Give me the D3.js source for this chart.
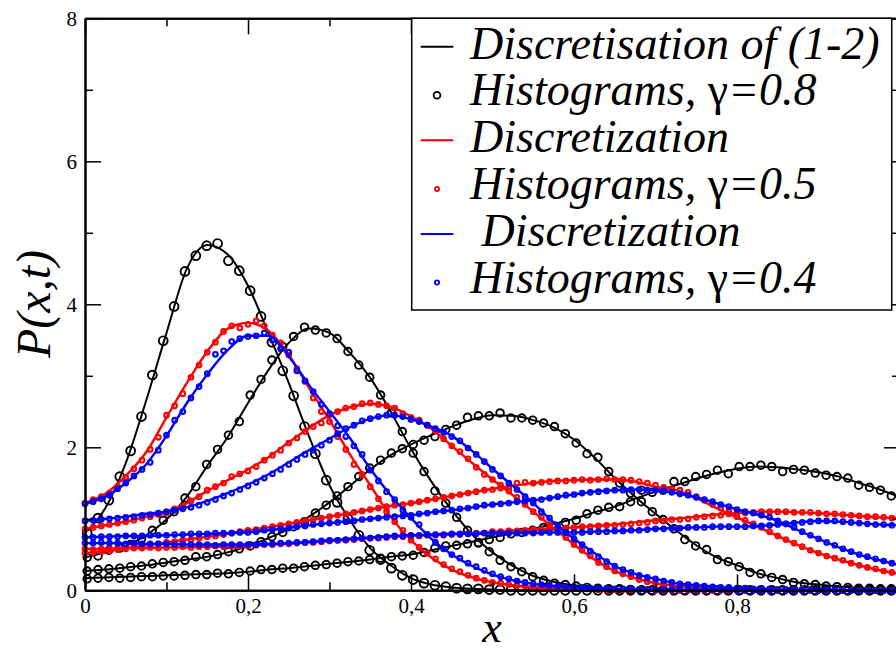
<!DOCTYPE html>
<html><head><meta charset="utf-8">
<script src="https://cdn.jsdelivr.net/npm/d3@7"></script>
<style>body{margin:0;background:#fff}svg{display:block}</style>
</head><body>
<svg id="chart" width="896" height="653"></svg>
<script>
// ---------- data ----------
const xTickValues = [0, 0.2, 0.4, 0.6, 0.8];
const xTickLabels = ["0", "0,2", "0,4", "0,6", "0,8"];
const xMinorTicks = [0.1, 0.3, 0.5, 0.7, 0.9];
const yTickValues = [0, 2, 4, 6, 8];
const yTickLabels = ["0", "2", "4", "6", "8"];
const yMinorTicks = [1, 3, 5, 7];

// solid curves, sampled at x = 0, 0.025, ..., 1
const lineStep = 0.025;
const discBlack1 = [0.80,1.15,1.78,2.65,3.60,4.50,4.83,4.70,4.26,3.60,2.90,2.15,1.47,0.98,0.59,0.35,0.17,0.08,0.04,0.02,0.01,0,0,0,0,0,0,0,0,0,0,0,0,0,0,0,0,0,0,0,0];
const discBlack2 = [0.46,0.53,0.62,0.77,0.99,1.31,1.74,2.14,2.62,3.08,3.46,3.66,3.60,3.32,2.97,2.50,1.98,1.52,1.12,0.78,0.53,0.34,0.20,0.12,0.07,0.04,0.02,0.01,0.005,0,0,0,0,0,0,0,0,0,0,0,0];
const discBlack3 = [0.27,0.29,0.32,0.35,0.39,0.43,0.47,0.53,0.62,0.73,0.86,1.03,1.23,1.46,1.69,1.89,2.04,2.17,2.29,2.39,2.45,2.44,2.38,2.28,2.11,1.86,1.57,1.31,1.07,0.84,0.63,0.46,0.35,0.24,0.17,0.11,0.08,0.05,0.035,0.02,0.015];
const discBlack4 = [0.17,0.18,0.19,0.20,0.21,0.22,0.23,0.24,0.26,0.29,0.31,0.34,0.37,0.40,0.43,0.47,0.50,0.56,0.62,0.68,0.74,0.80,0.86,0.93,1.00,1.09,1.17,1.28,1.38,1.47,1.56,1.64,1.70,1.73,1.72,1.69,1.65,1.59,1.50,1.41,1.30];
const discRed1 = [1.22,1.35,1.60,1.93,2.42,2.90,3.34,3.66,3.74,3.63,3.29,2.83,2.38,1.90,1.47,1.03,0.70,0.46,0.29,0.18,0.11,0.07,0.045,0.03,0.02,0.012,0.008,0.005,0.003,0,0,0,0,0,0,0,0,0,0,0,0];
const discRed2 = [0.86,0.91,0.96,1.03,1.09,1.22,1.39,1.54,1.69,1.86,2.07,2.27,2.45,2.56,2.61,2.57,2.43,2.26,2.02,1.78,1.55,1.33,1.10,0.87,0.64,0.43,0.27,0.17,0.10,0.06,0.035,0.02,0.01,0.005,0,0,0,0,0,0,0];
const discRed3 = [0.52,0.55,0.59,0.63,0.67,0.71,0.75,0.79,0.84,0.88,0.93,0.98,1.03,1.08,1.13,1.18,1.22,1.27,1.32,1.37,1.42,1.46,1.50,1.53,1.54,1.55,1.55,1.52,1.45,1.40,1.29,1.15,1.02,0.89,0.76,0.63,0.52,0.43,0.35,0.28,0.23];
const discRed4 = [0.58,0.58,0.59,0.59,0.60,0.60,0.61,0.61,0.62,0.64,0.65,0.67,0.69,0.71,0.73,0.75,0.76,0.77,0.78,0.80,0.82,0.83,0.85,0.87,0.88,0.90,0.92,0.95,0.98,1.00,1.03,1.06,1.08,1.10,1.10,1.09,1.08,1.06,1.04,1.02,1.01];
const discBlue1 = [1.21,1.31,1.50,1.76,2.16,2.62,3.02,3.36,3.56,3.56,3.27,2.87,2.50,2.13,1.70,1.33,1.01,0.72,0.50,0.34,0.22,0.14,0.09,0.06,0.04,0.03,0.02,0.015,0.01,0.007,0.005,0,0,0,0,0,0,0,0,0,0];
const discBlue2 = [0.97,1.00,1.03,1.07,1.10,1.16,1.25,1.36,1.48,1.62,1.79,1.96,2.12,2.28,2.40,2.45,2.39,2.29,2.16,1.95,1.70,1.46,1.22,0.95,0.72,0.52,0.34,0.23,0.16,0.10,0.07,0.045,0.03,0.02,0.01,0.005,0,0,0,0,0];
const discBlue3 = [0.74,0.75,0.76,0.76,0.77,0.78,0.79,0.80,0.81,0.84,0.87,0.91,0.94,0.97,1.00,1.03,1.05,1.09,1.12,1.16,1.20,1.23,1.26,1.30,1.34,1.38,1.40,1.41,1.40,1.36,1.30,1.22,1.13,1.06,0.97,0.84,0.72,0.60,0.50,0.42,0.35];
const discBlue4 = [0.66,0.66,0.66,0.65,0.65,0.64,0.64,0.64,0.64,0.65,0.66,0.68,0.70,0.72,0.74,0.76,0.77,0.78,0.79,0.79,0.80,0.80,0.80,0.81,0.81,0.82,0.83,0.84,0.86,0.87,0.88,0.89,0.89,0.90,0.92,0.95,0.97,0.96,0.94,0.92,0.91];

// histograms, gamma = 0.8 (bins of width 1/75)
const histBlackBins = 75;
const histBlack1 = [0.80,1.01,1.26,1.59,1.95,2.43,3.01,3.49,3.97,4.46,4.68,4.82,4.85,4.61,4.47,4.19,3.83,3.47,3.07,2.72,2.29,1.91,1.54,1.23,1.00,0.77,0.56,0.43,0.31,0.21,0.15,0.10,0.07,0.05,0.03,0.02,0.02,0.01,0.01,0,0,0,0,0,0,0,0,0,0,0,0,0,0,0,0,0,0,0,0,0,0,0,0,0,0,0,0,0,0,0,0,0,0,0,0];
const histBlack2 = [0.46,0.48,0.56,0.59,0.64,0.72,0.84,0.98,1.10,1.29,1.45,1.76,1.97,2.17,2.36,2.73,2.95,3.22,3.41,3.55,3.68,3.64,3.60,3.52,3.34,3.15,2.98,2.73,2.48,2.22,1.92,1.66,1.39,1.22,1.02,0.84,0.66,0.54,0.42,0.33,0.26,0.19,0.14,0.10,0.08,0.06,0.04,0.03,0.02,0.02,0.01,0,0,0,0,0,0,0,0,0,0,0,0,0,0,0,0,0,0,0,0,0,0,0,0];
const histBlack3 = [0.27,0.29,0.30,0.31,0.33,0.34,0.37,0.39,0.40,0.42,0.47,0.47,0.50,0.54,0.58,0.62,0.68,0.75,0.81,0.89,0.96,1.08,1.19,1.32,1.45,1.59,1.71,1.82,1.92,1.98,2.04,2.10,2.15,2.25,2.31,2.42,2.44,2.44,2.48,2.41,2.41,2.38,2.34,2.29,2.19,2.06,1.91,1.86,1.66,1.50,1.36,1.24,1.10,0.99,0.86,0.71,0.62,0.57,0.43,0.40,0.33,0.25,0.23,0.18,0.15,0.11,0.09,0.08,0.06,0.05,0.04,0.03,0.03,0.02,0.02];
const histBlack4 = [0.16,0.17,0.18,0.17,0.18,0.19,0.19,0.20,0.20,0.21,0.22,0.22,0.24,0.23,0.25,0.27,0.29,0.29,0.31,0.31,0.33,0.35,0.36,0.38,0.40,0.41,0.43,0.45,0.47,0.48,0.49,0.53,0.59,0.62,0.63,0.65,0.67,0.71,0.74,0.79,0.81,0.84,0.88,0.90,0.95,0.98,1.07,1.12,1.16,1.17,1.24,1.40,1.37,1.40,1.52,1.52,1.59,1.62,1.68,1.63,1.73,1.73,1.75,1.73,1.66,1.69,1.68,1.64,1.61,1.59,1.57,1.47,1.44,1.40,1.32];

// histograms, gamma = 0.5 and 0.4 (bins of width 1/100)
const histColorBins = 100;
const histRed1 = [1.22,1.27,1.31,1.36,1.45,1.58,1.70,1.82,1.97,2.14,2.45,2.58,2.75,2.98,3.15,3.33,3.47,3.62,3.70,3.67,3.72,3.77,3.70,3.57,3.46,3.29,3.10,2.92,2.69,2.50,2.36,2.15,1.97,1.76,1.62,1.45,1.28,1.10,0.96,0.84,0.70,0.60,0.52,0.44,0.36,0.30,0.26,0.21,0.17,0.14,0.11,0.10,0.08,0.07,0.06,0.05,0.04,0.04,0.03,0.03,0.02,0.02,0.02,0.01,0.01,0.01,0.01,0.01,0.01,0.01,0,0,0,0,0,0,0,0,0,0,0,0,0,0,0,0,0,0,0,0,0,0,0,0,0,0,0,0,0,0];
const histRed2 = [0.86,0.88,0.90,0.92,0.94,0.96,0.98,1.01,1.03,1.06,1.08,1.14,1.17,1.25,1.31,1.40,1.45,1.50,1.59,1.63,1.67,1.73,1.82,1.89,1.96,2.06,2.13,2.22,2.29,2.34,2.45,2.50,2.55,2.57,2.61,2.62,2.60,2.58,2.55,2.47,2.42,2.38,2.31,2.23,2.12,2.02,1.94,1.84,1.72,1.62,1.55,1.47,1.39,1.30,1.20,1.10,1.02,0.92,0.82,0.74,0.64,0.56,0.48,0.39,0.33,0.27,0.23,0.19,0.15,0.12,0.10,0.08,0.07,0.06,0.05,0.04,0.03,0.03,0.02,0.02,0.01,0.01,0.01,0.01,0.01,0.01,0.01,0.01,0.01,0.01,0,0,0,0,0,0,0,0,0,0];
const histRed3 = [0.52,0.53,0.54,0.55,0.57,0.59,0.60,0.62,0.63,0.65,0.67,0.68,0.70,0.71,0.73,0.75,0.76,0.78,0.80,0.82,0.84,0.85,0.87,0.89,0.91,0.93,0.95,0.97,0.99,1.01,1.03,1.05,1.07,1.09,1.11,1.13,1.15,1.17,1.19,1.20,1.22,1.24,1.26,1.28,1.30,1.32,1.34,1.36,1.38,1.40,1.41,1.43,1.44,1.50,1.51,1.50,1.51,1.52,1.53,1.53,1.54,1.55,1.54,1.55,1.56,1.55,1.55,1.54,1.52,1.50,1.47,1.44,1.42,1.40,1.37,1.31,1.26,1.20,1.15,1.10,1.03,0.98,0.93,0.88,0.82,0.76,0.71,0.66,0.61,0.56,0.52,0.48,0.45,0.42,0.38,0.35,0.32,0.30,0.27,0.25];
const histRed4 = [0.58,0.57,0.58,0.58,0.59,0.58,0.59,0.59,0.60,0.59,0.60,0.60,0.61,0.60,0.61,0.61,0.62,0.61,0.62,0.62,0.62,0.63,0.64,0.64,0.65,0.65,0.66,0.67,0.67,0.68,0.69,0.70,0.70,0.71,0.72,0.73,0.73,0.74,0.75,0.75,0.76,0.76,0.77,0.77,0.77,0.78,0.78,0.79,0.80,0.80,0.82,0.82,0.83,0.83,0.84,0.85,0.85,0.86,0.87,0.87,0.88,0.89,0.89,0.90,0.91,0.91,0.92,0.93,0.94,0.95,0.97,0.97,0.99,0.99,1.00,1.02,1.03,1.04,1.05,1.07,1.08,1.08,1.09,1.10,1.10,1.10,1.10,1.09,1.09,1.09,1.08,1.07,1.07,1.06,1.05,1.04,1.03,1.03,1.02,1.01];
const histBlue1 = [1.21,1.24,1.28,1.33,1.42,1.50,1.60,1.69,1.79,1.96,2.17,2.38,2.50,2.69,2.85,3.03,3.30,3.35,3.48,3.52,3.55,3.56,3.60,3.50,3.38,3.33,3.07,2.93,2.78,2.60,2.47,2.30,2.15,2.02,1.90,1.68,1.53,1.38,1.27,1.12,1.02,0.92,0.78,0.67,0.58,0.50,0.45,0.38,0.33,0.28,0.23,0.19,0.16,0.13,0.11,0.09,0.08,0.07,0.06,0.05,0.04,0.04,0.03,0.03,0.03,0.02,0.02,0.02,0.01,0.01,0.01,0.01,0.01,0.01,0.01,0.01,0.01,0.01,0.01,0.01,0,0,0,0,0,0,0,0,0,0,0,0,0,0,0,0,0,0,0,0];
const histBlue2 = [0.97,0.98,0.99,1.00,1.01,1.02,1.03,1.05,1.06,1.08,1.10,1.12,1.14,1.16,1.19,1.23,1.27,1.32,1.36,1.41,1.46,1.51,1.57,1.63,1.69,1.76,1.83,1.90,1.96,2.03,2.10,2.19,2.26,2.31,2.37,2.40,2.43,2.45,2.45,2.43,2.39,2.36,2.31,2.26,2.21,2.15,2.09,1.99,1.90,1.80,1.69,1.60,1.50,1.41,1.31,1.22,1.10,1.01,0.90,0.81,0.72,0.64,0.55,0.47,0.40,0.34,0.29,0.25,0.21,0.18,0.16,0.13,0.11,0.09,0.08,0.07,0.06,0.05,0.04,0.04,0.03,0.03,0.02,0.02,0.02,0.01,0.01,0.01,0.01,0.01,0.01,0.01,0.01,0,0,0,0,0,0,0];
const histBlue3 = [0.74,0.74,0.75,0.75,0.75,0.76,0.76,0.76,0.77,0.77,0.77,0.78,0.78,0.79,0.79,0.79,0.80,0.80,0.80,0.81,0.81,0.82,0.84,0.85,0.86,0.87,0.89,0.90,0.92,0.93,0.94,0.95,0.96,0.97,0.99,1.00,1.01,1.02,1.03,1.04,1.05,1.07,1.08,1.10,1.11,1.12,1.14,1.15,1.17,1.19,1.20,1.21,1.22,1.24,1.25,1.26,1.27,1.29,1.31,1.33,1.34,1.36,1.37,1.38,1.39,1.40,1.40,1.41,1.41,1.40,1.40,1.39,1.37,1.35,1.33,1.30,1.27,1.24,1.20,1.17,1.13,1.10,1.08,1.05,1.02,0.97,0.93,0.88,0.82,0.77,0.72,0.67,0.63,0.58,0.54,0.50,0.47,0.44,0.41,0.38];
const histBlue4 = [0.66,0.66,0.67,0.66,0.66,0.65,0.66,0.65,0.65,0.65,0.65,0.64,0.65,0.64,0.64,0.64,0.63,0.64,0.64,0.64,0.64,0.64,0.65,0.65,0.66,0.66,0.67,0.67,0.68,0.69,0.70,0.70,0.71,0.72,0.73,0.73,0.74,0.75,0.76,0.76,0.77,0.77,0.78,0.78,0.78,0.79,0.79,0.79,0.79,0.80,0.80,0.80,0.80,0.80,0.80,0.80,0.81,0.81,0.81,0.81,0.81,0.81,0.82,0.82,0.82,0.83,0.83,0.84,0.84,0.85,0.86,0.86,0.87,0.87,0.88,0.88,0.88,0.89,0.89,0.89,0.89,0.89,0.90,0.90,0.91,0.92,0.93,0.94,0.95,0.96,0.97,0.97,0.97,0.96,0.95,0.94,0.93,0.92,0.92,0.91];

// legend: [text before gamma, gamma part]
const legendLabels = [["Discretisation of (1-2)", ""], ["Histograms, ", "\u03b3=0.8"], ["Discretization", ""], ["Histograms, ", "\u03b3=0.5"], [" Discretization", ""], ["Histograms, ", "\u03b3=0.4"]];
const legendKinds = ["line", "marker", "line", "marker", "line", "marker"];
const legendColors = ["#000000", "#000000", "#ff0000", "#ff0000", "#0000ff", "#0000ff"];

// ---------- drawing ----------
const svg = d3.select("#chart");
const serif = "'Liberation Serif','DejaVu Serif',serif";
const xs = d3.scaleLinear().domain([0, 1]).range([85, 900]);
const ys = d3.scaleLinear().domain([0, 8]).range([590.3, 18.3]);

const lineGen = d3.line().x(d => xs(d[0])).y(d => ys(d[1])).curve(d3.curveMonotoneX);
const lineData = vals => vals.map((v, i) => [i * lineStep, v]);
const histData = (vals, bins, shift) => vals.map((v, i) => [(i + shift) / bins, v]);

const plot = svg.append("g");
const groups = [
  {color: "#000000", lines: [discBlack1, discBlack2, discBlack3, discBlack4], hists: [histBlack1, histBlack2, histBlack3, histBlack4], bins: histBlackBins, shift: 0.2, r: [4.4, 3.8, 3.8, 3.8], sw: 1.9, lw: 2},
  {color: "#ff0000", lines: [discRed1, discRed2, discRed3, discRed4], hists: [histRed1, histRed2, histRed3, histRed4], bins: histColorBins, shift: 0, r: [2.3, 2.3, 2.3, 2.3], sw: 2.1, lw: 2.4},
  {color: "#0000ff", lines: [discBlue1, discBlue2, discBlue3, discBlue4], hists: [histBlue1, histBlue2, histBlue3, histBlue4], bins: histColorBins, shift: 0, r: [2.3, 2.3, 2.3, 2.3], sw: 2.1, lw: 2.4}
];
groups.forEach(g => {
  g.lines.forEach(vals => {
    plot.append("path").datum(lineData(vals)).attr("d", lineGen)
      .attr("fill", "none").attr("stroke", g.color).attr("stroke-width", g.lw);
  });
  g.hists.forEach((vals, k) => {
    plot.append("g").selectAll("circle").data(histData(vals, g.bins, g.shift)).join("circle")
      .attr("cx", d => xs(d[0])).attr("cy", d => ys(d[1])).attr("r", g.r[k])
      .attr("fill", "none").attr("stroke", g.color).attr("stroke-width", g.sw);
  });
});

// axes
function styleAxis(sel, sw) {
  sel.select(".domain").attr("stroke", "#000").attr("stroke-width", 2);
  sel.selectAll(".tick line").attr("stroke", "#000").attr("stroke-width", sw);
  sel.selectAll("text").attr("font-family", serif).attr("font-size", 21).attr("fill", "#000");
}
function addAxis(axis, tx, ty) {
  const g = svg.append("g").attr("transform", `translate(${tx},${ty})`).call(axis);
  styleAxis(g, 1.5);
  return g;
}
addAxis(d3.axisBottom(xs).tickValues(xTickValues).tickSizeInner(-16).tickSizeOuter(0).tickPadding(8)
  .tickFormat((d, i) => xTickLabels[i]), 0, ys(0));
addAxis(d3.axisBottom(xs).tickValues(xMinorTicks).tickSizeInner(-8).tickSizeOuter(0).tickFormat(""), 0, ys(0));
addAxis(d3.axisTop(xs).tickValues(xTickValues).tickSizeInner(-16).tickSizeOuter(0).tickFormat(""), 0, ys(8));
addAxis(d3.axisTop(xs).tickValues(xMinorTicks).tickSizeInner(-8).tickSizeOuter(0).tickFormat(""), 0, ys(8));
addAxis(d3.axisLeft(ys).tickValues(yTickValues).tickSizeInner(-16).tickSizeOuter(0).tickPadding(8)
  .tickFormat((d, i) => yTickLabels[i]), xs(0), 0);
addAxis(d3.axisLeft(ys).tickValues(yMinorTicks).tickSizeInner(-8).tickSizeOuter(0).tickFormat(""), xs(0), 0);
addAxis(d3.axisRight(ys).tickValues(yTickValues).tickSizeInner(-16).tickSizeOuter(0).tickFormat(""), xs(1), 0);
addAxis(d3.axisRight(ys).tickValues(yMinorTicks).tickSizeInner(-8).tickSizeOuter(0).tickFormat(""), xs(1), 0);

// axis titles
svg.append("text").attr("x", 492).attr("y", 642).attr("text-anchor", "middle")
  .attr("font-family", serif).attr("font-style", "italic").attr("font-size", 44).text("x");
svg.append("text").attr("transform", "translate(50,304) rotate(-90)").attr("text-anchor", "middle")
  .attr("font-family", serif).attr("font-style", "italic").attr("font-size", 48).text("P(x,t)");

// legend
const lg = svg.append("g");
lg.append("rect").attr("x", 411.7).attr("y", 18.3).attr("width", 480).attr("height", 291.7)
  .attr("fill", "#fff").attr("stroke", "#000").attr("stroke-width", 1.5);
legendLabels.forEach((lab, i) => {
  const base = 58.5 + i * 46.8;
  if (legendKinds[i] === "line") {
    lg.append("line").attr("x1", 420.7).attr("x2", 453.3).attr("y1", base - 11.8).attr("y2", base - 11.8)
      .attr("stroke", legendColors[i]).attr("stroke-width", 2);
  } else {
    lg.append("circle").attr("cx", 437).attr("cy", base - 10).attr("r", i === 1 ? 3.4 : 2.1)
      .attr("fill", "none").attr("stroke", legendColors[i]).attr("stroke-width", 1.8);
  }
  const t = lg.append("text").attr("x", 470).attr("y", base).attr("font-family", serif)
    .attr("font-size", 46).attr("xml:space", "preserve").style("white-space", "pre");
  t.append("tspan").attr("font-style", "italic").text(lab[0]);
  if (lab[1]) {
    t.append("tspan").attr("font-style", "normal").text(lab[1].slice(0, 1));
    t.append("tspan").attr("font-style", "italic").text(lab[1].slice(1));
  }
});
</script>
</body></html>
